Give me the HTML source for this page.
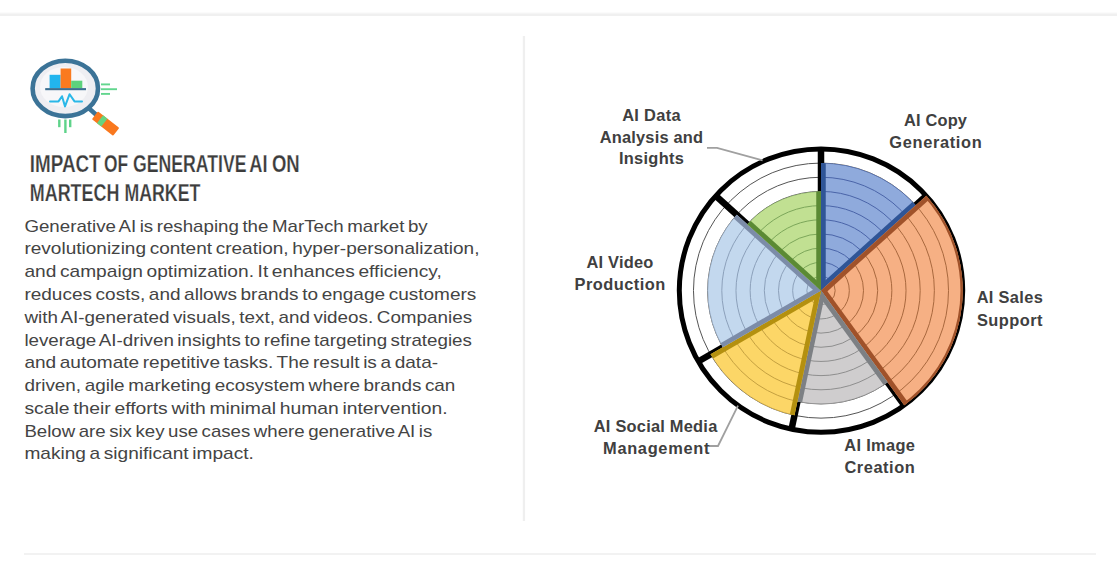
<!DOCTYPE html>
<html><head><meta charset="utf-8">
<style>
html,body{margin:0;padding:0;background:#fff;}
body{width:1117px;height:565px;overflow:hidden;position:relative;}
svg{position:absolute;left:0;top:0;display:block;}
.title{font-family:"Liberation Sans",sans-serif;font-weight:700;font-size:24.4px;fill:#3C3C3C;stroke:#fff;stroke-width:0.25px;}
.body{font-family:"Liberation Sans",sans-serif;font-size:17px;word-spacing:-1.5px;fill:#444;}
.lab{font-family:"Liberation Sans",sans-serif;font-weight:700;font-size:16.4px;fill:#404040;}
</style></head>
<body>
<svg width="1117" height="565" viewBox="0 0 1117 565">
  <rect x="0" y="12" width="1117" height="1" fill="#FBFBFB"/>
  <rect x="0" y="13" width="1117" height="1" fill="#F5F5F5"/>
  <rect x="0" y="14" width="1117" height="2" fill="#F0F0F0"/>
  <rect x="522.8" y="36" width="2.3" height="485" fill="#EFEFEF"/>
  <rect x="24" y="553" width="1072" height="2" fill="#F2F2F2"/>
  
<g>
  <ellipse cx="65.3" cy="88.4" rx="32.7" ry="27.7" fill="#EEEEF2" stroke="#3B7397" stroke-width="4.6"/>
  <ellipse cx="64" cy="87" rx="24" ry="20" fill="#F7F7F9"/>
  <rect x="49.6" y="74.8" width="11" height="13.5" fill="#22B5EE"/>
  <rect x="60.6" y="68.5" width="10.6" height="19.8" fill="#FA7A1E"/>
  <rect x="71.2" y="80.7" width="11.1" height="7.6" fill="#5DD27C"/>
  <rect x="45.2" y="88.1" width="40.8" height="2.1" fill="#3C6F90"/>
  <polyline points="50,101.4 58.5,101.4 62,96.2 65,106.4 69.6,94.2 74.5,101.4 82,101.4" fill="none" stroke="#2AB8E8" stroke-width="2" stroke-linejoin="round" stroke-linecap="round"/>
  <line x1="88" y1="107.5" x2="97" y2="115.5" stroke="#3B7397" stroke-width="4.5"/>
  <g transform="translate(96.5,116.5) rotate(38)">
    <rect x="-2" y="-5" width="27" height="10" rx="1" fill="#F9781E"/>
    <rect x="4.5" y="-5" width="5.5" height="10" fill="#66D480"/>
  </g>
  <g stroke="#62D68E" stroke-width="1.9">
    <line x1="101" y1="84.4" x2="110" y2="84.4"/>
    <line x1="101" y1="89.2" x2="117" y2="89.2"/>
    <line x1="101" y1="93.9" x2="110" y2="93.9"/>
  </g>
  <g stroke="#5ED38A" stroke-width="2.4">
    <line x1="59.3" y1="119.5" x2="59.3" y2="127.2"/>
    <line x1="65.4" y1="119.5" x2="65.4" y2="133"/>
    <line x1="70.2" y1="119.5" x2="70.2" y2="127.2"/>
  </g>
</g>

  <g class="title">
<text x="29.80" y="171.9" textLength="70.80" lengthAdjust="spacingAndGlyphs">IMPACT</text>
<text x="104.00" y="171.9" textLength="24.10" lengthAdjust="spacingAndGlyphs">OF</text>
<text x="133.00" y="171.9" textLength="113.60" lengthAdjust="spacingAndGlyphs">GENERATIVE</text>
<text x="249.30" y="171.9" textLength="18.20" lengthAdjust="spacingAndGlyphs">AI</text>
<text x="271.90" y="171.9" textLength="27.80" lengthAdjust="spacingAndGlyphs">ON</text>
<text x="29.80" y="200.7" textLength="89.60" lengthAdjust="spacingAndGlyphs">MARTECH</text>
<text x="124.50" y="200.7" textLength="75.80" lengthAdjust="spacingAndGlyphs">MARKET</text>
  </g>
  <g class="body">
<text x="24.4" y="231.70" textLength="403.3" lengthAdjust="spacingAndGlyphs">Generative AI is reshaping the MarTech market by</text>
<text x="24.4" y="254.47" textLength="455.1" lengthAdjust="spacingAndGlyphs">revolutionizing content creation, hyper-personalization,</text>
<text x="24.4" y="277.24" textLength="417.4" lengthAdjust="spacingAndGlyphs">and campaign optimization. It enhances efficiency,</text>
<text x="24.4" y="300.01" textLength="451.9" lengthAdjust="spacingAndGlyphs">reduces costs, and allows brands to engage customers</text>
<text x="24.4" y="322.78" textLength="447.7" lengthAdjust="spacingAndGlyphs">with AI-generated visuals, text, and videos. Companies</text>
<text x="24.4" y="345.55" textLength="447.5" lengthAdjust="spacingAndGlyphs">leverage AI-driven insights to refine targeting strategies</text>
<text x="24.4" y="368.32" textLength="413.7" lengthAdjust="spacingAndGlyphs">and automate repetitive tasks. The result is a data-</text>
<text x="24.4" y="391.09" textLength="431.0" lengthAdjust="spacingAndGlyphs">driven, agile marketing ecosystem where brands can</text>
<text x="24.4" y="413.86" textLength="423.3" lengthAdjust="spacingAndGlyphs">scale their efforts with minimal human intervention.</text>
<text x="24.4" y="436.63" textLength="407.9" lengthAdjust="spacingAndGlyphs">Below are six key use cases where generative AI is</text>
<text x="24.4" y="459.40" textLength="229.4" lengthAdjust="spacingAndGlyphs">making a significant impact.</text>
  </g>
  <g>
<defs>
<clipPath id="cp0"><path d="M821.00,290.60 L821.00,163.07 A127.53,127.53 0 0 1 915.77,205.27 Z"/></clipPath>
<clipPath id="cp1"><path d="M821.00,290.60 L926.30,195.78 A141.70,141.70 0 0 1 904.29,405.24 Z"/></clipPath>
<clipPath id="cp2"><path d="M821.00,290.60 L887.63,382.31 A113.36,113.36 0 0 1 797.43,401.48 Z"/></clipPath>
<clipPath id="cp3"><path d="M821.00,290.60 L794.49,415.34 A127.53,127.53 0 0 1 710.56,354.37 Z"/></clipPath>
<clipPath id="cp4"><path d="M821.00,290.60 L722.83,347.28 A113.36,113.36 0 0 1 736.76,214.75 Z"/></clipPath>
<clipPath id="cp5"><path d="M821.00,290.60 L747.29,224.23 A99.19,99.19 0 0 1 821.00,191.41 Z"/></clipPath>
<clipPath id="cpall"><circle cx="821.0" cy="290.6" r="141.7"/></clipPath>
</defs>
<circle cx="821.0" cy="290.6" r="141.7" fill="#fff"/>
<circle cx="821.0" cy="290.6" r="14.17" fill="none" stroke="#555" stroke-width="1"/>
<circle cx="821.0" cy="290.6" r="28.34" fill="none" stroke="#555" stroke-width="1"/>
<circle cx="821.0" cy="290.6" r="42.51" fill="none" stroke="#555" stroke-width="1"/>
<circle cx="821.0" cy="290.6" r="56.68" fill="none" stroke="#555" stroke-width="1"/>
<circle cx="821.0" cy="290.6" r="70.85" fill="none" stroke="#555" stroke-width="1"/>
<circle cx="821.0" cy="290.6" r="85.02" fill="none" stroke="#555" stroke-width="1"/>
<circle cx="821.0" cy="290.6" r="99.19" fill="none" stroke="#555" stroke-width="1"/>
<circle cx="821.0" cy="290.6" r="113.36" fill="none" stroke="#555" stroke-width="1"/>
<circle cx="821.0" cy="290.6" r="127.53" fill="none" stroke="#555" stroke-width="1"/>
<line x1="821.0" y1="290.6" x2="821.00" y2="148.90" stroke="#000" stroke-width="6.5"/>
<line x1="821.0" y1="290.6" x2="926.30" y2="195.78" stroke="#000" stroke-width="6.5"/>
<line x1="821.0" y1="290.6" x2="904.29" y2="405.24" stroke="#000" stroke-width="6.5"/>
<line x1="821.0" y1="290.6" x2="791.54" y2="429.20" stroke="#000" stroke-width="6.5"/>
<line x1="821.0" y1="290.6" x2="698.28" y2="361.45" stroke="#000" stroke-width="6.5"/>
<line x1="821.0" y1="290.6" x2="715.70" y2="195.78" stroke="#000" stroke-width="6.5"/>
<circle cx="821.0" cy="290.6" r="141.7" fill="none" stroke="#000" stroke-width="5"/>
<path d="M821.00,290.60 L821.00,163.07 A127.53,127.53 0 0 1 915.77,205.27 Z" fill="#8FAADC"/>
<g clip-path="url(#cp0)">
<circle cx="821.0" cy="290.6" r="14.17" fill="none" stroke="#4A64A8" stroke-width="1"/>
<circle cx="821.0" cy="290.6" r="28.34" fill="none" stroke="#4A64A8" stroke-width="1"/>
<circle cx="821.0" cy="290.6" r="42.51" fill="none" stroke="#4A64A8" stroke-width="1"/>
<circle cx="821.0" cy="290.6" r="56.68" fill="none" stroke="#4A64A8" stroke-width="1"/>
<circle cx="821.0" cy="290.6" r="70.85" fill="none" stroke="#4A64A8" stroke-width="1"/>
<circle cx="821.0" cy="290.6" r="85.02" fill="none" stroke="#4A64A8" stroke-width="1"/>
<circle cx="821.0" cy="290.6" r="99.19" fill="none" stroke="#4A64A8" stroke-width="1"/>
<circle cx="821.0" cy="290.6" r="113.36" fill="none" stroke="#4A64A8" stroke-width="1"/>
<circle cx="821.0" cy="290.6" r="127.53" fill="none" stroke="#4A64A8" stroke-width="1"/>
<line x1="821.0" y1="290.6" x2="821.00" y2="158.07" stroke="#2F5597" stroke-width="9.5"/>
<line x1="821.0" y1="290.6" x2="919.49" y2="201.92" stroke="#2F5597" stroke-width="9.5"/>
</g>
<path d="M821.00,290.60 L926.30,195.78 A141.70,141.70 0 0 1 904.29,405.24 Z" fill="#F6B084"/>
<g clip-path="url(#cp1)">
<circle cx="821.0" cy="290.6" r="14.17" fill="none" stroke="#A8683E" stroke-width="1"/>
<circle cx="821.0" cy="290.6" r="28.34" fill="none" stroke="#A8683E" stroke-width="1"/>
<circle cx="821.0" cy="290.6" r="42.51" fill="none" stroke="#A8683E" stroke-width="1"/>
<circle cx="821.0" cy="290.6" r="56.68" fill="none" stroke="#A8683E" stroke-width="1"/>
<circle cx="821.0" cy="290.6" r="70.85" fill="none" stroke="#A8683E" stroke-width="1"/>
<circle cx="821.0" cy="290.6" r="85.02" fill="none" stroke="#A8683E" stroke-width="1"/>
<circle cx="821.0" cy="290.6" r="99.19" fill="none" stroke="#A8683E" stroke-width="1"/>
<circle cx="821.0" cy="290.6" r="113.36" fill="none" stroke="#A8683E" stroke-width="1"/>
<circle cx="821.0" cy="290.6" r="127.53" fill="none" stroke="#A8683E" stroke-width="1"/>
<circle cx="821.0" cy="290.6" r="141.70" fill="none" stroke="#A8683E" stroke-width="1"/>
<line x1="821.0" y1="290.6" x2="930.02" y2="192.44" stroke="#A0522A" stroke-width="9.5"/>
<line x1="821.0" y1="290.6" x2="907.23" y2="409.28" stroke="#A0522A" stroke-width="9.5"/>
<circle cx="821.0" cy="290.6" r="141.70" fill="none" stroke="#A0522A" stroke-width="4.5"/>
</g>
<path d="M821.00,290.60 L887.63,382.31 A113.36,113.36 0 0 1 797.43,401.48 Z" fill="#CFCDCE"/>
<g clip-path="url(#cp2)">
<circle cx="821.0" cy="290.6" r="14.17" fill="none" stroke="#8E8E8E" stroke-width="1"/>
<circle cx="821.0" cy="290.6" r="28.34" fill="none" stroke="#8E8E8E" stroke-width="1"/>
<circle cx="821.0" cy="290.6" r="42.51" fill="none" stroke="#8E8E8E" stroke-width="1"/>
<circle cx="821.0" cy="290.6" r="56.68" fill="none" stroke="#8E8E8E" stroke-width="1"/>
<circle cx="821.0" cy="290.6" r="70.85" fill="none" stroke="#8E8E8E" stroke-width="1"/>
<circle cx="821.0" cy="290.6" r="85.02" fill="none" stroke="#8E8E8E" stroke-width="1"/>
<circle cx="821.0" cy="290.6" r="99.19" fill="none" stroke="#8E8E8E" stroke-width="1"/>
<circle cx="821.0" cy="290.6" r="113.36" fill="none" stroke="#8E8E8E" stroke-width="1"/>
<line x1="821.0" y1="290.6" x2="890.57" y2="386.36" stroke="#7D8084" stroke-width="9.5"/>
<line x1="821.0" y1="290.6" x2="796.39" y2="406.37" stroke="#7D8084" stroke-width="9.5"/>
</g>
<path d="M821.00,290.60 L794.49,415.34 A127.53,127.53 0 0 1 710.56,354.37 Z" fill="#FCD667"/>
<g clip-path="url(#cp3)">
<circle cx="821.0" cy="290.6" r="14.17" fill="none" stroke="#C4A040" stroke-width="1"/>
<circle cx="821.0" cy="290.6" r="28.34" fill="none" stroke="#C4A040" stroke-width="1"/>
<circle cx="821.0" cy="290.6" r="42.51" fill="none" stroke="#C4A040" stroke-width="1"/>
<circle cx="821.0" cy="290.6" r="56.68" fill="none" stroke="#C4A040" stroke-width="1"/>
<circle cx="821.0" cy="290.6" r="70.85" fill="none" stroke="#C4A040" stroke-width="1"/>
<circle cx="821.0" cy="290.6" r="85.02" fill="none" stroke="#C4A040" stroke-width="1"/>
<circle cx="821.0" cy="290.6" r="99.19" fill="none" stroke="#C4A040" stroke-width="1"/>
<circle cx="821.0" cy="290.6" r="113.36" fill="none" stroke="#C4A040" stroke-width="1"/>
<circle cx="821.0" cy="290.6" r="127.53" fill="none" stroke="#C4A040" stroke-width="1"/>
<line x1="821.0" y1="290.6" x2="793.45" y2="420.23" stroke="#B4900F" stroke-width="9.5"/>
<line x1="821.0" y1="290.6" x2="706.23" y2="356.87" stroke="#B4900F" stroke-width="9.5"/>
</g>
<path d="M821.00,290.60 L722.83,347.28 A113.36,113.36 0 0 1 736.76,214.75 Z" fill="#C3D8EE"/>
<g clip-path="url(#cp4)">
<circle cx="821.0" cy="290.6" r="14.17" fill="none" stroke="#8CA0BA" stroke-width="1"/>
<circle cx="821.0" cy="290.6" r="28.34" fill="none" stroke="#8CA0BA" stroke-width="1"/>
<circle cx="821.0" cy="290.6" r="42.51" fill="none" stroke="#8CA0BA" stroke-width="1"/>
<circle cx="821.0" cy="290.6" r="56.68" fill="none" stroke="#8CA0BA" stroke-width="1"/>
<circle cx="821.0" cy="290.6" r="70.85" fill="none" stroke="#8CA0BA" stroke-width="1"/>
<circle cx="821.0" cy="290.6" r="85.02" fill="none" stroke="#8CA0BA" stroke-width="1"/>
<circle cx="821.0" cy="290.6" r="99.19" fill="none" stroke="#8CA0BA" stroke-width="1"/>
<circle cx="821.0" cy="290.6" r="113.36" fill="none" stroke="#8CA0BA" stroke-width="1"/>
<line x1="821.0" y1="290.6" x2="718.50" y2="349.78" stroke="#7C8CA8" stroke-width="9.5"/>
<line x1="821.0" y1="290.6" x2="733.04" y2="211.40" stroke="#7C8CA8" stroke-width="9.5"/>
</g>
<path d="M821.00,290.60 L747.29,224.23 A99.19,99.19 0 0 1 821.00,191.41 Z" fill="#C1E092"/>
<g clip-path="url(#cp5)">
<circle cx="821.0" cy="290.6" r="14.17" fill="none" stroke="#7CA65A" stroke-width="1"/>
<circle cx="821.0" cy="290.6" r="28.34" fill="none" stroke="#7CA65A" stroke-width="1"/>
<circle cx="821.0" cy="290.6" r="42.51" fill="none" stroke="#7CA65A" stroke-width="1"/>
<circle cx="821.0" cy="290.6" r="56.68" fill="none" stroke="#7CA65A" stroke-width="1"/>
<circle cx="821.0" cy="290.6" r="70.85" fill="none" stroke="#7CA65A" stroke-width="1"/>
<circle cx="821.0" cy="290.6" r="85.02" fill="none" stroke="#7CA65A" stroke-width="1"/>
<circle cx="821.0" cy="290.6" r="99.19" fill="none" stroke="#7CA65A" stroke-width="1"/>
<line x1="821.0" y1="290.6" x2="743.57" y2="220.88" stroke="#5B8A34" stroke-width="9.5"/>
<line x1="821.0" y1="290.6" x2="821.00" y2="186.41" stroke="#5B8A34" stroke-width="9.5"/>
</g>
  </g>
  <g fill="none" stroke="#A0A0A0" stroke-width="1.8">
    <polyline points="707,147.8 717,147.8 762.6,160.4"/>
    <polyline points="709,446 718,446 738,405.6"/>
  </g>
  <g class="lab">
<text x="651.4" y="121.0" text-anchor="middle" textLength="58.4" lengthAdjust="spacing">AI Data</text>
<text x="651.4" y="142.6" text-anchor="middle" textLength="103.4" lengthAdjust="spacing">Analysis and</text>
<text x="651.4" y="164.2" text-anchor="middle" textLength="65.0" lengthAdjust="spacing">Insights</text>
<text x="935.5" y="125.7" text-anchor="middle" textLength="62.9" lengthAdjust="spacing">AI Copy</text>
<text x="935.5" y="147.6" text-anchor="middle" textLength="92.4" lengthAdjust="spacing">Generation</text>
<text x="1009.7" y="303.4" text-anchor="middle" textLength="66.1" lengthAdjust="spacing">AI Sales</text>
<text x="1009.7" y="325.5" text-anchor="middle" textLength="65.6" lengthAdjust="spacing">Support</text>
<text x="619.9" y="268.1" text-anchor="middle" textLength="66.8" lengthAdjust="spacing">AI Video</text>
<text x="619.9" y="289.9" text-anchor="middle" textLength="90.8" lengthAdjust="spacing">Production</text>
<text x="655.5" y="431.5" text-anchor="middle" textLength="123.5" lengthAdjust="spacing">AI Social Media</text>
<text x="656.2" y="454.0" text-anchor="middle" textLength="106.3" lengthAdjust="spacing">Management</text>
<text x="879.6" y="450.7" text-anchor="middle" textLength="70.7" lengthAdjust="spacing">AI Image</text>
<text x="879.6" y="472.7" text-anchor="middle" textLength="70.3" lengthAdjust="spacing">Creation</text>
  </g>
</svg>
</body></html>
